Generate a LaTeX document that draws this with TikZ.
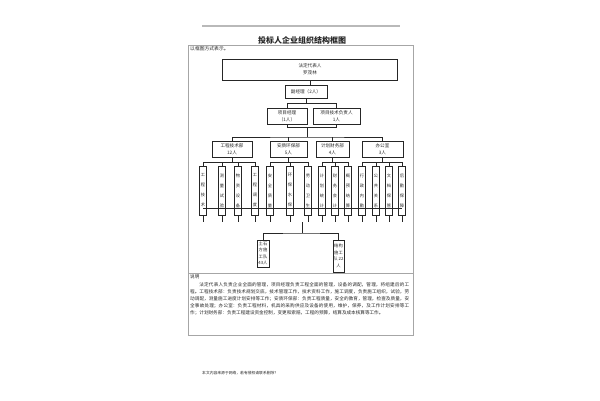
\documentclass[tikz,border=0pt]{standalone}
\usepackage{fontspec}
\newfontfamily\cjk{Noto Sans CJK SC}
\XeTeXlinebreaklocale "zh"
\XeTeXlinebreakskip=0pt plus 1pt
\begin{document}
\begin{tikzpicture}[x=1pt,y=-1pt,
  box/.style={draw=black!85, line width=0.5pt, inner sep=0pt, align=center,
    font=\cjk\fontsize{4.6}{7}\selectfont, text=black!85},
  vbox/.style={box, minimum width=7pt, minimum height=49pt,
    font=\cjk\fontsize{4.2}{10}\selectfont},
  wire/.style={draw=black!85, line width=0.5pt},
  txt/.style={inner sep=0pt, text=black!85}]
\useasboundingbox (0,0) rectangle (600,400);
% top rule and title
\draw[gray!55, line width=1.3pt] (202,26) -- (400,26);
\node[txt, font=\cjk\bfseries\fontsize{8}{8}\selectfont] (title) at (302,40) {投标人企业组织结构框图};
% frame
\draw[gray!70, line width=0.6pt] (188,45) rectangle (413,335);
\draw[gray!70, line width=0.6pt] (188,273) -- (413,273);
\node[txt, anchor=west, font=\cjk\fontsize{4.8}{6}\selectfont] (hdr) at (190,48.5) {以框图方式表示。};
% top levels
\node[box, minimum width=175pt, minimum height=21pt] (lr) at (310,69.5) {法定代表人\\罗茂林};
\node[box, minimum width=42pt, minimum height=13pt] (fj) at (306,91.5) {副经理（2人）};
\node[box, minimum width=40pt, minimum height=16pt] (xm) at (287,116) {项目经理\\（1人）};
\node[box, minimum width=47pt, minimum height=16pt] (xj) at (336.5,116) {项目技术负责人\\1人};
\draw[wire] (lr.south) -- (lr.south |- fj.north);
\draw[wire] (fj.south) -- ++(0,5) coordinate (ja);
\draw[wire] (xm.north) |- (ja) -| (xj.north);
\draw[wire] (xm.south) -- ++(0,3) coordinate (jb);
\draw[wire] (jb) -| (xj.south);
\coordinate (jc) at (307,127);
% departments
\node[box, minimum width=40pt, minimum height=16pt] (d1) at (232,149) {工程技术部\\12人};
\node[box, minimum width=37pt, minimum height=16pt] (d2) at (288.5,149) {安质环保部\\5人};
\node[box, minimum width=33pt, minimum height=16pt] (d3) at (332.5,149) {计划财务部\\4人};
\node[box, minimum width=41pt, minimum height=16pt] (d4) at (382.5,149) {办公室\\3人};
\draw[wire] (jc) -- ++(0,10) coordinate (jd);
\draw[wire] (d1.north) |- (jd) -| (d4.north);
\draw[wire] (d2.north) -- (d2.north |- jd);
\draw[wire] (d3.north) -- (d3.north |- jd);
% children
\foreach \x/\t [count=\i] in {
  203/{工\\程\\技\\术}, 222/{测\\量\\试\\验}, 238/{物\\资\\设\\备}, 255/{工\\程\\调\\度},
  270/{安\\全\\质\\量}, 290/{环\\保\\水\\保}, 308/{劳\\动\\卫\\生},
  322/{计\\划\\统\\计}, 335/{财\\务\\会\\计}, 348/{概\\预\\结\\算},
  362/{行\\政\\内\\勤}, 376/{公\\共\\关\\系}, 389/{文\\档\\保\\管}, 402/{后\\勤\\保\\障}}
  {\node[vbox] (c\i) at (\x,190.5) {\t};}
\foreach \d/\a/\b in {1/1/4, 2/5/7, 3/8/10, 4/11/14}{
  \draw[wire] (d\d.south) -- ++(0,5) coordinate (e\d);
  \draw[wire] (c\a.north) |- (e\d) -| (c\b.north);
}
\foreach \i in {2,3,6,9,12,13}{
  \draw[wire] (c\i.north) -- ++(0,-4);
}
\foreach \i in {1,...,14}{
  \draw[wire] (c\i.south) -- ++(0,7);
}
\draw[wire] ([yshift=7pt]c1.south) -- ([yshift=7pt]c14.south);
% teams
\node[box, minimum width=12pt, minimum height=27pt, font=\cjk\fontsize{4.3}{6.5}\selectfont] (t1) at (263,253.5) {土石\\方施\\工队\\43人};
\node[box, minimum width=11pt, minimum height=32pt, font=\cjk\fontsize{4.3}{6.5}\selectfont] (t2) at (338.5,256) {结构\\施工\\队 22\\人};
\coordinate (jf) at (302,222);
\draw[wire] (jf) -- ++(0,11) coordinate (jg);
\draw[wire] (t1.north) |- (jg) -| (t2.north);
% notes
\node[txt, anchor=west, font=\cjk\fontsize{4.6}{6}\selectfont] (sm) at (190,277) {说明};
\node[txt, anchor=north west, text width=219pt, align=justify,
  font=\cjk\fontsize{4.6}{7}\selectfont] (para) at (190,282.5)
  {\hspace*{2em}法定代表人负责企业全面的管理，项目经理负责工程全面的管理，设备的调配，管理，将组建后的工程。工程技术部：负责技术规划交底，技术管理工作，技术资料工作，施工调度，负责施工组织，试验，劳动调配，测量施工进度计划安排等工作；安质环保部：负责工程质量，安全的教育，管理，检查及质量，安全事故处理；办公室：负责工程材料，机具的采购供应及设备的使用，维护，保养，及工作计划安排等工作；计划财务部：负责工程建设资金控制，变更和索赔，工程的预算，结算及成本核算等工作。};
% footer
\node[txt, anchor=west, font=\cjk\fontsize{3.8}{5}\selectfont] (ft) at (202,373) {本文内容来源于网络，若有侵权请联系删除？};
\end{tikzpicture}
\end{document}
